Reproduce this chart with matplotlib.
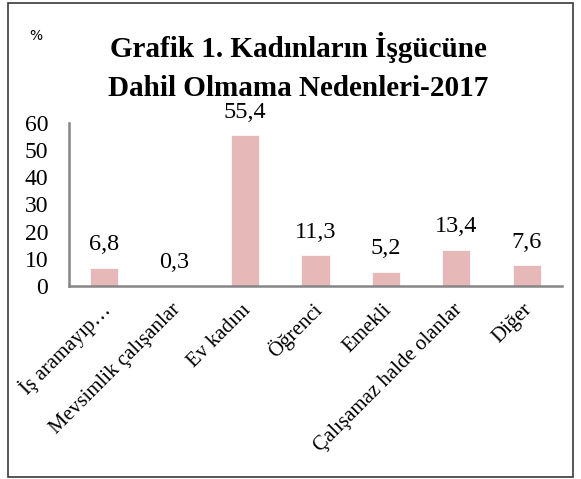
import matplotlib
matplotlib.use("Agg")
import matplotlib.pyplot as plt
import matplotlib.transforms as mtransforms
from matplotlib.patches import Rectangle

categories = ["İş aramayıp…", "Mevsimlik çalışanlar", "Ev kadını", "Öğrenci",
              "Emekli", "Çalışamaz halde olanlar", "Diğer"]
values = [6.8, 0.3, 55.4, 11.3, 5.2, 13.4, 7.6]
value_labels = ["6,8", "0,3", "55,4", "11,3", "5,2", "13,4", "7,6"]
yticks = [0, 10, 20, 30, 40, 50, 60]

SERIF = ["Liberation Serif", "DejaVu Serif"]
BAR = "#E6B9B8"
AXIS = "#868686"

W, H = 581, 479
fig = plt.figure(figsize=(W / 100, H / 100), dpi=100)
fig.patch.set_facecolor("white")

# outer frame
fig.patches.append(Rectangle((8 / W, 1 - 477 / H), (573 - 8) / W, (477 - 3) / H,
                             transform=fig.transFigure, fill=False,
                             edgecolor="#3a3a3a", linewidth=1.2))

ax = fig.add_axes([69 / W, 1 - 286 / H, (562 - 69) / W, (286 - 123) / H])
x = list(range(len(categories)))
ax.bar(x, values, width=0.4, color=BAR, edgecolor="white", linewidth=0.5, zorder=2)
for xi, v, lab in zip(x, values, value_labels):
    ax.annotate(lab, (xi, v), xytext=(0, 9), textcoords="offset points",
                ha="center", va="bottom", fontsize=17.5, family=SERIF)

ax.set_xlim(-0.5, len(categories) - 0.5)
ax.set_ylim(0, 60)
ax.set_yticks(yticks)
ax.set_yticklabels([str(t) for t in yticks], family=SERIF, fontsize=17)
ax.set_xticks(x)
ax.set_xticklabels([])
# rotated category labels, anchored at their right end below each tick
off = mtransforms.ScaledTranslation(3 / 100, -21 / 100, fig.dpi_scale_trans)
trans = ax.get_xaxis_transform() + off
for xi, lab in zip(x, categories):
    ax.text(xi, 0, lab, transform=trans, rotation=45, rotation_mode="anchor",
            ha="right", va="center", fontsize=15, family=SERIF)
ax.tick_params(axis="y", length=0, pad=15)
ax.tick_params(axis="x", length=0)
for s in ["top", "right"]:
    ax.spines[s].set_visible(False)
for s in ["left", "bottom"]:
    ax.spines[s].set_color(AXIS)
    ax.spines[s].set_linewidth(1.8)

fig.text(298 / W, 1 - 67 / H, "Grafik 1. Kadınların İşgücüne\nDahil Olmama Nedenleri-2017",
         ha="center", va="center", fontsize=21, fontweight="bold", family=SERIF,
         linespacing=1.6)
fig.text(29 / W, 1 - 36 / H, "%", ha="left", va="center", fontsize=10)

fig.savefig("out.png", dpi=100)
